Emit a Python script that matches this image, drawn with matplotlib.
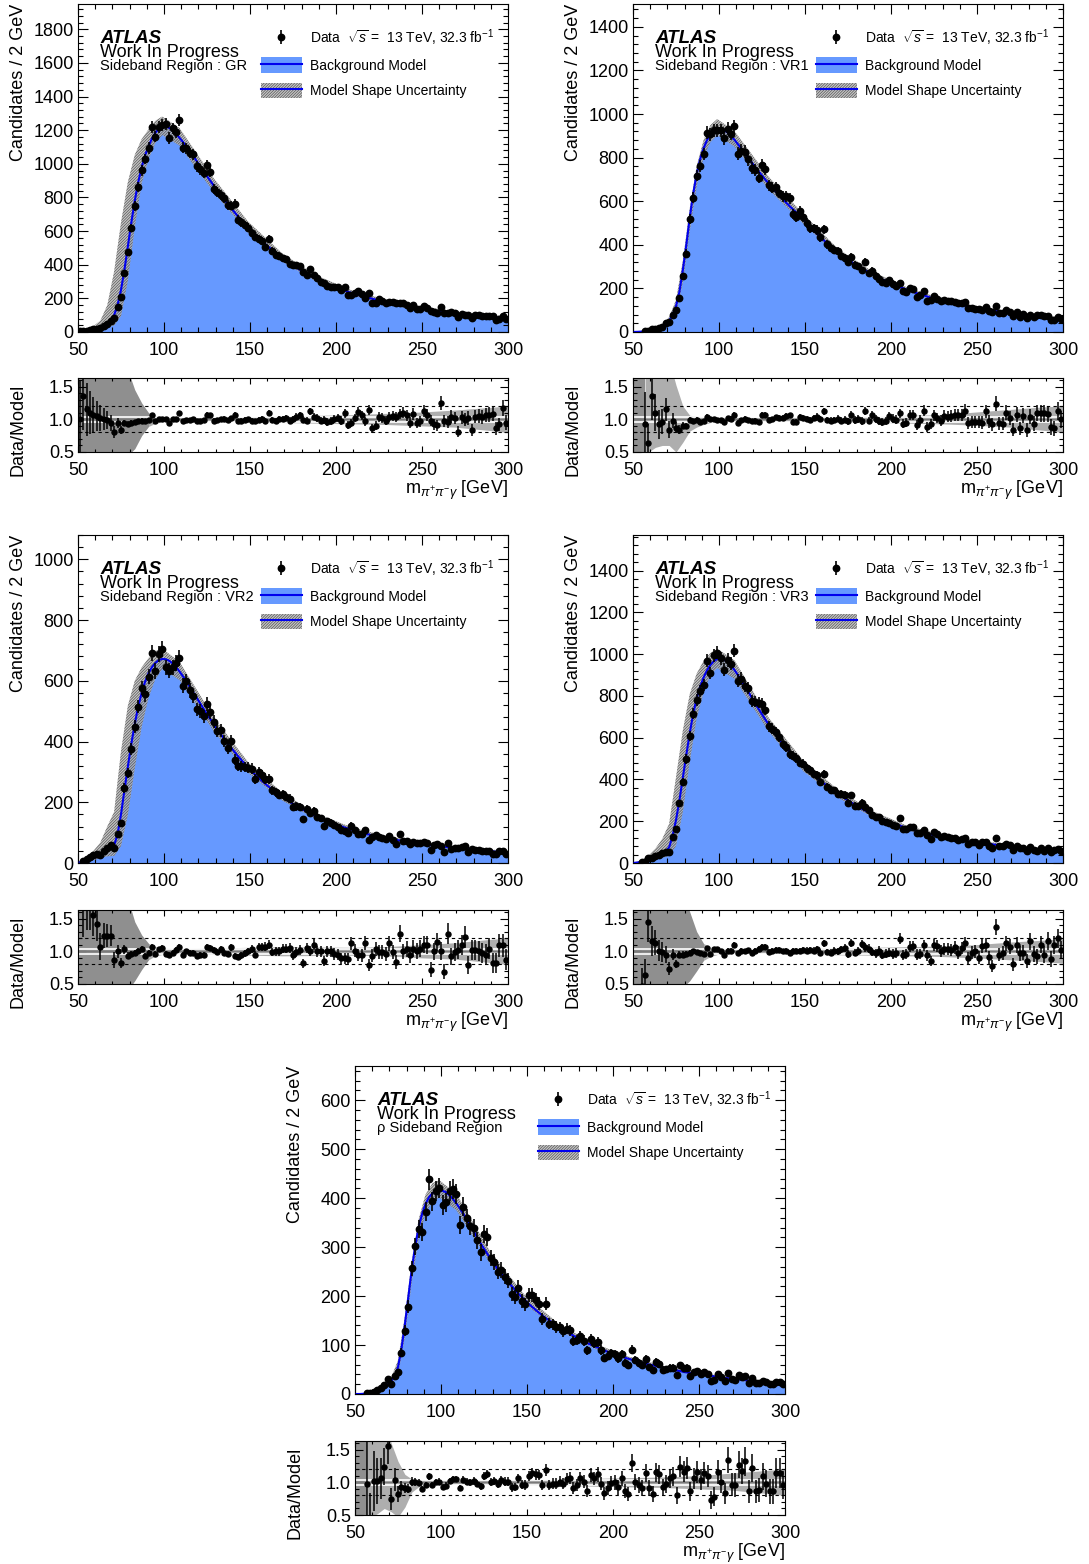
import numpy as np
import matplotlib
matplotlib.use('Agg')
import matplotlib.pyplot as plt
from matplotlib.patches import Patch
from matplotlib.lines import Line2D
from matplotlib.ticker import MultipleLocator, AutoMinorLocator, FormatStrFormatter

plt.rcParams['font.family'] = ['Liberation Sans', 'DejaVu Sans']
plt.rcParams['mathtext.fontset'] = 'custom'
plt.rcParams['mathtext.rm'] = 'Liberation Sans'
plt.rcParams['mathtext.it'] = 'Liberation Sans:italic'
plt.rcParams['mathtext.bf'] = 'Liberation Sans:bold'
plt.rcParams['hatch.linewidth'] = 0.5

nan = np.nan

# bin centres (2 GeV bins, 50-300 GeV)
mass = np.arange(51, 300, 2)
# masses where the shape-uncertainty band edges were read
band_x = np.array([51, 55, 57, 59, 63, 67, 71, 75, 79, 83, 87, 91, 95, 99,
                   109, 129, 149, 169, 189, 209, 229, 249, 269, 289, 299])

# ---------------- GR ----------------
gr_model = [3, 5, 7, 10, 14, 19, 26, 35, 48, 68,
            100, 160, 250, 370, 510, 650, 780, 890, 980, 1050,
            1105, 1150, 1185, 1208, 1220, 1222, 1214, 1198, 1178, 1155,
            1130, 1103, 1075, 1046, 1016, 986, 956, 927, 898, 869,
            841, 814, 788, 762, 737, 712, 688, 665, 643, 621,
            600, 580, 560, 541, 522, 504, 487, 470, 454, 439,
            424, 410, 396, 383, 370, 358, 346, 335, 324, 314,
            304, 295, 286, 277, 269, 261, 253, 246, 239, 232,
            226, 220, 214, 208, 203, 198, 193, 188, 183, 178,
            174, 170, 166, 162, 158, 154, 150, 146, 143, 139,
            136, 133, 130, 127, 124, 121, 118, 115, 112, 110,
            107, 105, 103, 101, 99, 97, 95, 93, 91, 89,
            87, 85, 83, 81, 79]
gr_ratio = [1.00, 1.36, 1.15, 1.10, 1.07, 1.05, 1.02, 1.00, 0.99, 0.94,
            0.81, 0.94, 0.84, 0.94, 0.93, 0.95, 0.96, 0.97, 0.98, 0.98,
            0.99, 1.06, 0.98, 1.01, 1.01, 1.01, 0.95, 1.01, 1.01, 1.09,
            0.97, 0.99, 0.99, 1.01, 0.97, 0.98, 0.99, 1.07, 1.06, 0.98,
            0.99, 1.00, 1.01, 0.99, 1.02, 1.07, 0.97, 0.98, 0.99, 1.00,
            0.98, 0.97, 0.99, 1.00, 0.97, 1.10, 0.99, 0.98, 1.00, 1.00,
            1.02, 0.98, 1.00, 1.04, 1.06, 0.99, 0.98, 1.12, 1.04, 1.02,
            0.98, 0.99, 0.96, 0.97, 1.00, 1.02, 0.98, 1.09, 0.91, 0.94,
            1.02, 1.11, 1.06, 0.97, 1.14, 0.86, 0.90, 1.04, 1.02, 0.98,
            1.03, 1.05, 1.03, 1.08, 1.10, 1.06, 0.95, 1.08, 0.94, 0.97,
            1.12, 1.06, 0.98, 0.92, 0.91, 1.25, 0.97, 0.96, 1.04, 1.02,
            0.81, 1.03, 0.99, 1.02, 0.84, 1.04, 1.05, 1.04, 1.06, 1.07,
            1.08, 0.86, 0.92, 1.17, 0.95]
gr_band_lo = [0.5, 0.6, 0.6, 0.6, 0.6, 0.55, 0.4, 0.38, 0.6, 0.8, 0.9, 0.93, 0.95,
              0.96, 0.96, 0.955, 0.95, 0.95, 0.945, 0.94, 0.93, 0.91, 0.89, 0.86, 0.85]
gr_band_hi = [2.5, 2.7, 2.6, 2.5, 2.6, 3.3, 3.6, 2.6, 1.75, 1.35, 1.17, 1.09, 1.06,
              1.05, 1.05, 1.05, 1.055, 1.06, 1.065, 1.07, 1.08, 1.1, 1.12, 1.15, 1.17]
gr_rband_lo = [0, 0, 0, 0, 0, 0, 0, 0, 0.45, 0.55, 0.75, 0.89, 0.94,
               0.96, 0.97, 0.975, 0.96, 0.95, 0.94, 0.93, 0.92, 0.9, 0.88, 0.83, 0.8]
gr_rband_hi = [2, 2, 2, 2, 2, 2, 2, 2, 1.75, 1.45, 1.25, 1.1, 1.06,
               1.04, 1.03, 1.03, 1.04, 1.05, 1.06, 1.07, 1.09, 1.11, 1.14, 1.18, 1.2]

# ---------------- VR1 ----------------
vr1_model = [0.5, 1, 2, 4, 7, 10, 14, 19, 26, 36,
             52, 78, 118, 185, 285, 400, 525, 635, 725, 792,
             842, 880, 908, 926, 935, 934, 927, 915, 900, 882,
             862, 841, 820, 800, 778, 758, 738, 718, 699, 680,
             662, 644, 627, 610, 594, 578, 563, 548, 533, 518,
             500, 483, 466, 450, 435, 420, 406, 393, 380, 367,
             355, 344, 333, 322, 311, 301, 292, 283, 274, 265,
             257, 249, 241, 234, 227, 220, 213, 207, 201, 195,
             189, 183, 178, 173, 168, 163, 158, 154, 150, 146,
             142, 138, 134, 130, 126, 123, 120, 117, 114, 111,
             108, 105, 102, 100, 98, 96, 94, 92, 90, 88,
             86, 84, 82, 80, 78, 76, 74, 72, 70, 68,
             66, 64, 62, 60, 58]
vr1_ratio = [nan, nan, nan, 0.93, 0.63, 1.35, 1.10, 0.92, 0.96, 1.15,
             0.84, 0.98, 0.87, 0.84, 0.90, 0.90, 0.99, 0.97, 0.99, 0.96,
             0.97, 1.04, 1.00, 1.00, 0.99, 0.99, 0.96, 1.02, 1.01, 1.07,
             0.95, 0.99, 1.01, 0.99, 0.97, 0.98, 0.96, 1.07, 1.07, 0.99,
             1.00, 1.03, 1.02, 1.02, 1.05, 1.06, 0.96, 0.96, 1.04, 1.02,
             1.00, 0.99, 1.02, 1.04, 1.00, 1.12, 0.99, 0.98, 0.99, 1.01,
             0.98, 0.99, 0.97, 1.07, 0.99, 1.00, 0.97, 1.13, 0.98, 1.06,
             1.00, 0.97, 0.96, 0.97, 1.05, 1.01, 0.99, 1.09, 0.93, 0.95,
             1.06, 1.07, 0.91, 0.99, 1.13, 0.88, 0.92, 1.06, 1.02, 0.98,
             1.05, 1.04, 1.05, 1.06, 1.07, 1.07, 1.13, 0.94, 0.96, 0.96,
             0.96, 0.95, 1.12, 0.97, 0.92, 1.24, 0.94, 0.93, 1.10, 1.02,
             0.84, 1.07, 0.86, 1.05, 0.84, 1.04, 0.93, 1.10, 1.09, 1.09,
             1.08, 0.88, 0.86, 1.12, 1.00]
vr1_band_lo = [0.5, 0.5, 0.6, 0.7, 0.75, 0.75, 0.7, 0.7, 0.8, 0.88, 0.92, 0.95, 0.96,
               0.965, 0.965, 0.96, 0.96, 0.955, 0.95, 0.95, 0.94, 0.93, 0.91, 0.89, 0.88]
vr1_band_hi = [1.5, 1.5, 1.4, 1.35, 1.3, 1.3, 1.3, 1.25, 1.15, 1.08, 1.05, 1.045, 1.045,
               1.045, 1.045, 1.045, 1.045, 1.045, 1.05, 1.055, 1.06, 1.08, 1.1, 1.13, 1.15]
vr1_rband_lo = [0, 0, 0, 0.5, 0.57, 0.6, 0.6, 0.5, 0.65, 0.82, 0.88, 0.92, 0.95,
                0.965, 0.97, 0.97, 0.965, 0.96, 0.955, 0.94, 0.93, 0.91, 0.88, 0.83, 0.8]
vr1_rband_hi = [2, 2, 2, 2, 2, 2, 1.9, 1.52, 1.2, 1.06, 1.05, 1.04, 1.04,
                1.035, 1.03, 1.03, 1.035, 1.04, 1.045, 1.06, 1.07, 1.11, 1.15, 1.19, 1.2]

# ---------------- VR2 ----------------
vr2_model = [2, 4, 8, 12, 16, 20, 26, 33, 40, 48,
             58, 95, 160, 240, 318, 392, 458, 515, 560, 597,
             625, 645, 659, 668, 672, 671, 666, 657, 645, 631,
             615, 598, 580, 562, 544, 526, 508, 490, 473, 456,
             440, 424, 409, 394, 380, 366, 352, 339, 326, 314,
             302, 291, 280, 270, 260, 251, 242, 233, 225, 217,
             209, 202, 195, 188, 181, 175, 169, 163, 157, 152,
             147, 142, 137, 133, 129, 125, 121, 117, 113, 110,
             106, 103, 100, 97, 94, 91, 89, 86, 84, 82,
             80, 78, 76, 74, 72, 70, 68, 67, 65, 64,
             62, 61, 59, 58, 56, 55, 54, 52, 51, 50,
             48, 47, 46, 45, 44, 43, 42, 41, 40, 39,
             38, 37, 36, 35, 34]
vr2_ratio = [nan, 1.9, 1.8, 1.7, 1.55, 1.42, 1.07, 1.24, 1.24, 1.24,
             0.87, 1.00, 0.82, 1.03, 0.93, 0.96, 0.98, 1.00, 1.03, 0.93,
             0.98, 1.07, 0.96, 1.03, 1.05, 0.96, 0.95, 0.98, 1.02, 1.07,
             0.95, 1.00, 0.98, 0.98, 0.93, 0.95, 0.95, 1.07, 1.05, 1.02,
             0.99, 1.03, 0.98, 0.96, 1.06, 0.93, 0.91, 0.94, 0.97, 1.00,
             1.03, 0.95, 1.07, 1.07, 1.07, 1.10, 0.99, 1.00, 1.00, 1.04,
             1.04, 1.05, 0.94, 0.99, 1.02, 0.82, 1.05, 1.00, 1.10, 1.00,
             1.00, 0.85, 1.00, 1.00, 0.96, 0.95, 0.89, 0.89, 0.88, 1.12,
             1.01, 0.94, 0.94, 1.12, 0.79, 0.93, 1.04, 0.99, 0.99, 0.96,
             1.12, 0.99, 0.84, 1.27, 1.00, 1.04, 0.94, 1.04, 1.00, 1.04,
             1.10, 1.10, 0.72, 1.00, 1.14, 1.00, 0.69, 1.27, 0.92, 0.99,
             1.02, 1.09, 1.22, 0.79, 1.02, 1.02, 1.00, 0.97, 0.95, 1.04,
             0.82, 0.82, 1.09, 1.09, 0.87]
vr2_band_lo = [0.5, 0.6, 0.6, 0.6, 0.6, 0.55, 0.4, 0.35, 0.5, 0.68, 0.8, 0.87, 0.92,
               0.95, 0.955, 0.95, 0.945, 0.945, 0.94, 0.94, 0.93, 0.91, 0.89, 0.86, 0.85]
vr2_band_hi = [2.5, 2.6, 2.5, 2.5, 2.6, 3.0, 2.9, 2.3, 1.63, 1.31, 1.15, 1.08, 1.06,
               1.05, 1.05, 1.05, 1.055, 1.06, 1.065, 1.07, 1.08, 1.1, 1.12, 1.15, 1.17]
vr2_rband_lo = [0, 0, 0, 0, 0, 0, 0, 0, 0.4, 0.55, 0.72, 0.87, 0.93,
                0.95, 0.96, 0.95, 0.94, 0.93, 0.935, 0.94, 0.93, 0.9, 0.88, 0.83, 0.8]
vr2_rband_hi = [2, 2, 2, 2, 2, 2, 2, 2, 1.8, 1.45, 1.25, 1.12, 1.07,
                1.05, 1.04, 1.05, 1.06, 1.07, 1.065, 1.06, 1.07, 1.1, 1.13, 1.18, 1.2]

# ---------------- VR3 ----------------
vr3_model = [1, 3, 6, 10, 16, 22, 30, 38, 46, 56,
             75, 130, 205, 300, 410, 518, 622, 715, 788, 843,
             887, 922, 948, 966, 977, 979, 974, 962, 945, 924,
             900, 874, 847, 820, 792, 765, 738, 712, 686, 661,
             637, 614, 592, 571, 551, 532, 514, 497, 481, 465,
             450, 435, 421, 407, 394, 381, 368, 356, 344, 332,
             321, 310, 299, 289, 279, 269, 260, 251, 242, 234,
             226, 218, 211, 204, 197, 191, 185, 179, 173, 168,
             163, 158, 153, 149, 145, 141, 137, 133, 129, 126,
             123, 120, 117, 114, 111, 108, 106, 103, 101, 99,
             97, 95, 93, 91, 89, 87, 85, 83, 81, 79,
             77, 75, 73, 71, 70, 68, 67, 65, 64, 62,
             61, 60, 58, 57, 56]
vr3_ratio = [nan, nan, 0.47, 0.63, 1.44, 1.15, 1.13, 1.01, 0.99, 0.95,
             0.73, 0.95, 0.80, 0.95, 0.95, 0.96, 0.975, 1.00, 0.99, 0.975,
             0.96, 1.05, 0.96, 1.03, 1.03, 1.00, 0.95, 1.01, 1.01, 1.10,
             0.97, 1.01, 1.00, 1.02, 0.98, 1.01, 1.04, 1.07, 1.07, 0.99,
             1.01, 1.02, 1.02, 1.00, 1.01, 0.98, 1.00, 1.01, 1.00, 1.02,
             1.01, 1.02, 1.01, 1.03, 0.98, 1.12, 0.99, 0.98, 1.01, 1.00,
             1.03, 1.05, 0.96, 1.12, 0.98, 1.01, 1.11, 1.06, 1.04, 0.99,
             0.97, 1.01, 0.95, 0.96, 0.98, 0.96, 0.97, 1.19, 0.94, 0.96,
             1.07, 1.08, 0.95, 0.96, 1.09, 0.94, 0.85, 1.10, 1.08, 1.00,
             1.04, 1.04, 1.02, 1.06, 0.98, 1.05, 1.12, 0.90, 0.98, 1.00,
             0.90, 1.08, 1.09, 0.91, 0.78, 1.37, 0.95, 0.97, 1.12, 1.07,
             0.80, 1.10, 0.97, 0.98, 0.85, 1.15, 0.96, 0.92, 1.10, 0.95,
             1.15, 0.88, 1.10, 1.20, 1.02]
vr3_band_lo = [0.5, 0.6, 0.6, 0.6, 0.6, 0.55, 0.45, 0.4, 0.6, 0.78, 0.88, 0.92, 0.95,
               0.955, 0.955, 0.95, 0.945, 0.945, 0.94, 0.94, 0.93, 0.91, 0.89, 0.86, 0.85]
vr3_band_hi = [2.2, 2.4, 2.4, 2.3, 2.3, 2.5, 2.5, 2.0, 1.55, 1.3, 1.15, 1.09, 1.06,
               1.05, 1.05, 1.05, 1.055, 1.06, 1.065, 1.07, 1.08, 1.1, 1.12, 1.15, 1.17]
vr3_rband_lo = [0, 0, 0, 0, 0, 0, 0, 0, 0.45, 0.55, 0.7, 0.86, 0.92,
                0.95, 0.965, 0.97, 0.955, 0.945, 0.94, 0.93, 0.92, 0.9, 0.87, 0.84, 0.82]
vr3_rband_hi = [2, 2, 2, 2, 2, 2, 2, 2, 1.85, 1.6, 1.3, 1.12, 1.06,
                1.045, 1.035, 1.03, 1.045, 1.055, 1.06, 1.07, 1.08, 1.1, 1.14, 1.17, 1.19]

# ---------------- rho sideband ----------------
rho_model = [0, 0, 0.5, 1.5, 3, 5, 8, 11, 15, 20,
             26, 35, 55, 92, 142, 198, 254, 302, 340, 368,
             388, 402, 410, 415, 416, 415, 412, 406, 398, 389,
             379, 368, 356, 344, 332, 320, 308, 297, 286, 275,
             265, 255, 246, 237, 229, 221, 213, 205, 198, 191,
             184, 178, 172, 166, 160, 155, 150, 145, 140, 135,
             131, 127, 123, 119, 115, 111, 108, 104, 101, 98,
             95, 92, 89, 86, 84, 81, 79, 77, 74, 72,
             70, 68, 66, 64, 62, 60, 59, 57, 55, 54,
             52, 51, 49, 48, 47, 45, 44, 43, 42, 41,
             40, 39, 38, 37, 36, 35, 34, 33, 32, 31,
             30, 30, 29, 28, 27, 27, 26, 25, 25, 24,
             23, 23, 22, 22, 21]
rho_ratio = [nan, nan, nan, 0.97, 0.45, 1.02, 1.02, 1.06, 1.24, 1.56,
             0.75, 1.04, 0.82, 0.92, 0.91, 0.90, 1.01, 1.00, 0.99, 0.90,
             0.96, 1.09, 0.96, 1.00, 1.01, 0.93, 0.95, 1.02, 1.05, 1.05,
             0.91, 1.04, 1.01, 1.00, 1.02, 0.98, 0.94, 1.10, 1.12, 1.01,
             1.02, 0.98, 1.03, 1.01, 1.01, 0.92, 0.93, 1.06, 0.96, 0.96,
             1.10, 1.14, 1.12, 1.11, 0.96, 1.19, 0.96, 0.98, 0.98, 1.01,
             0.98, 1.05, 1.06, 0.91, 0.96, 1.06, 1.01, 0.86, 1.11, 1.06,
             1.12, 0.98, 0.83, 0.91, 0.99, 1.00, 0.92, 1.06, 0.86, 0.82,
             1.29, 1.01, 0.96, 0.91, 1.14, 0.91, 0.82, 1.15, 1.12, 0.92,
             0.98, 1.06, 1.09, 0.80, 1.24, 1.16, 1.22, 0.86, 1.06, 1.15,
             1.04, 1.14, 1.09, 0.73, 0.78, 1.16, 1.01, 0.83, 1.34, 0.96,
             0.96, 1.27, 1.17, 1.32, 0.86, 1.22, 0.86, 0.88, 1.09, 0.98,
             0.86, 0.86, 1.14, 1.14, 0.96]
rho_band_lo = [0.5, 0.5, 0.6, 0.7, 0.75, 0.75, 0.7, 0.7, 0.82, 0.9, 0.93, 0.95, 0.96,
               0.965, 0.965, 0.96, 0.96, 0.955, 0.95, 0.95, 0.94, 0.93, 0.91, 0.89, 0.88]
rho_band_hi = [1.5, 1.5, 1.4, 1.35, 1.3, 1.3, 1.3, 1.25, 1.12, 1.07, 1.05, 1.05, 1.05,
               1.05, 1.05, 1.05, 1.05, 1.05, 1.055, 1.06, 1.07, 1.08, 1.1, 1.13, 1.15]
rho_rband_lo = [0, 0, 0, 0.47, 0.52, 0.6, 0.55, 0.47, 0.62, 0.85, 0.93, 0.96, 0.965,
                0.965, 0.97, 0.965, 0.96, 0.955, 0.94, 0.93, 0.92, 0.9, 0.88, 0.83, 0.8]
rho_rband_hi = [2, 2, 2, 2, 2, 2, 1.6, 1.32, 1.12, 1.05, 1.04, 1.04, 1.035,
                1.035, 1.035, 1.035, 1.04, 1.045, 1.06, 1.07, 1.08, 1.1, 1.14, 1.18, 1.2]

BLUE = '#6699ff'
LINE = '#0000ee'
HATCH_FACE = (0.72, 0.72, 0.72, 0.8)
HATCH_EDGE = '#555555'
HATCH = '/' * 12

W, H = 1089, 1564
fig = plt.figure(figsize=(W / 100, H / 100), dpi=100)


def px_axes(left, top, right, bottom):
    return fig.add_axes([left / W, 1 - bottom / H, (right - left) / W, (bottom - top) / H])


def edge_pad(x):
    # carry the end values out to the axis limits
    x = np.asarray(x, float)
    return np.r_[x[0], x, x[-1]]


def draw_region(box, rbox, model, ratio, blo, bhi, rlo, rhi, n_dark, ymax, ystep, label):
    ax = px_axes(*box)
    rax = px_axes(*rbox)
    model = np.asarray(model, float)
    ratio = np.asarray(ratio, float)
    data = model * ratio
    err = np.sqrt(data)
    k = (band_x - 51) // 2
    xk = np.r_[50, band_x, 300]

    # main panel
    ax.fill_between(np.r_[50, mass, 300], 0, edge_pad(model), color=BLUE, lw=0, zorder=1)
    ax.fill_between(xk, edge_pad(model[k] * np.asarray(blo)), edge_pad(model[k] * np.asarray(bhi)),
                    facecolor=HATCH_FACE, edgecolor=HATCH_EDGE, hatch=HATCH, lw=0, zorder=2)
    ax.plot(mass, model, color=LINE, lw=1.5, zorder=3)
    hdata = ax.errorbar(mass, data, yerr=err, fmt='o', color='k', ms=4.6,
                        elinewidth=1.2, capsize=0, zorder=4)

    ax.set_xlim(50, 300)
    ax.set_ylim(0, ymax)
    ax.yaxis.set_major_locator(MultipleLocator(ystep))
    ax.yaxis.set_minor_locator(AutoMinorLocator(5))
    ax.set_ylabel('Candidates / 2 GeV', fontsize=13, loc='top')
    ax.yaxis.set_label_coords(-0.119, 1.0)

    ax.text(0.051, 0.882, 'ATLAS', transform=ax.transAxes, fontsize=13.5,
            fontweight='bold', fontstyle='italic')
    ax.text(0.051, 0.8375, 'Work In Progress', transform=ax.transAxes, fontsize=13)
    ax.text(0.051, 0.799, label, transform=ax.transAxes, fontsize=10.5)

    h_bkg = (Patch(facecolor=BLUE, lw=0), Line2D([], [], color=LINE, lw=1.5))
    h_unc = (Patch(facecolor=HATCH_FACE, edgecolor=HATCH_EDGE, hatch=HATCH, lw=0),
             Line2D([], [], color=LINE, lw=1.5))
    ax.legend([hdata, h_bkg, h_unc],
              ['Data  $\\sqrt{s}$ =  13 TeV, 32.3 fb$^{-1}$', 'Background Model',
               'Model Shape Uncertainty'],
              loc='upper left', bbox_to_anchor=(0.4256, 0.928), frameon=False, fontsize=10,
              handlelength=2.95, handleheight=1.37, handletextpad=0.55, labelspacing=0.68,
              borderpad=0, borderaxespad=0)

    # ratio panel
    rlo = edge_pad(rlo)
    rhi = edge_pad(rhi)
    d = n_dark + 1
    rax.fill_between(xk[d:], rlo[d:], rhi[d:], color='#aeaeae', lw=0, zorder=1)
    rax.fill_between(xk[:d + 1], rlo[:d + 1], rhi[:d + 1], color='#8f8f8f', lw=0, zorder=1)
    rax.axhline(1.0, color='#7a7a7a', lw=1.0, zorder=2)
    for y in (1.04, 0.96):
        rax.axhline(y, color='white', lw=1.2, zorder=2)
    for y in (1.2, 0.8):
        rax.axhline(y, color='k', lw=0.8, ls=(0, (3, 3)), zorder=2)
    with np.errstate(divide='ignore', invalid='ignore'):
        rerr = err / model
    rax.errorbar(mass, ratio, yerr=rerr, fmt='o', color='k', ms=3.6,
                 elinewidth=1.1, capsize=0, zorder=4)
    rax.set_xlim(50, 300)
    rax.set_ylim(0.5, 1.63)
    rax.yaxis.set_major_locator(MultipleLocator(0.5))
    rax.yaxis.set_minor_locator(MultipleLocator(0.1))
    rax.yaxis.set_major_formatter(FormatStrFormatter('%.1f'))
    rax.set_ylabel('Data/Model', fontsize=13)
    rax.yaxis.set_label_coords(-0.119, 0.3)
    rax.set_xlabel(r'm$_{\pi^{+}\pi^{-}\gamma}$ [GeV]', fontsize=13, loc='right')
    rax.xaxis.set_label_coords(1.0, -0.36)

    for a in (ax, rax):
        a.xaxis.set_major_locator(MultipleLocator(50))
        a.xaxis.set_minor_locator(MultipleLocator(10))
        a.tick_params(which='both', direction='in', top=True, right=True,
                      labelsize=13, pad=3, width=0.8)
        a.tick_params(axis='x', which='both', pad=7)
        for s in a.spines.values():
            s.set_linewidth(0.8)
    ax.tick_params(which='major', length=7)
    ax.tick_params(which='minor', length=3.5)
    rax.tick_params(axis='x', which='major', length=4)
    rax.tick_params(axis='x', which='minor', length=2)
    rax.tick_params(axis='y', which='major', length=6)
    rax.tick_params(axis='y', which='minor', length=3)


draw_region((78, 4, 508, 332), (78, 378, 508, 452), gr_model, gr_ratio,
            gr_band_lo, gr_band_hi, gr_rband_lo, gr_rband_hi, 11, 1950, 200,
            'Sideband Region : GR')
draw_region((633, 4, 1063, 332), (633, 378, 1063, 452), vr1_model, vr1_ratio,
            vr1_band_lo, vr1_band_hi, vr1_rband_lo, vr1_rband_hi, 2, 1505, 200,
            'Sideband Region : VR1')
draw_region((78, 535, 508, 863), (78, 910, 508, 984), vr2_model, vr2_ratio,
            vr2_band_lo, vr2_band_hi, vr2_rband_lo, vr2_rband_hi, 11, 1080, 200,
            'Sideband Region : VR2')
draw_region((633, 535, 1063, 863), (633, 910, 1063, 984), vr3_model, vr3_ratio,
            vr3_band_lo, vr3_band_hi, vr3_rband_lo, vr3_rband_hi, 11, 1570, 200,
            'Sideband Region : VR3')
draw_region((355, 1066, 785, 1394), (355, 1441, 785, 1515), rho_model, rho_ratio,
            rho_band_lo, rho_band_hi, rho_rband_lo, rho_rband_hi, 2, 670, 100,
            'ρ Sideband Region')

fig.savefig('out.png', dpi=100)
